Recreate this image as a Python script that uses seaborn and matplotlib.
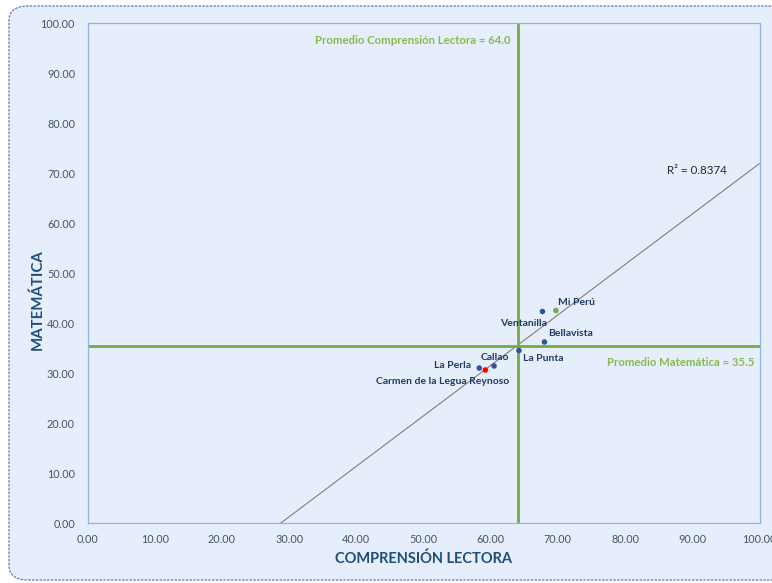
import numpy as np
import pandas as pd
import matplotlib
matplotlib.use('Agg')
from matplotlib import pyplot as plt
from matplotlib.patches import FancyBboxPatch
import seaborn as sns

# datos por distrito
distritos = ['Mi Perú', 'Ventanilla', 'Bellavista', 'La Punta', 'Callao', 'La Perla',
             'Carmen de la Legua Reynoso']
comprension = [69.7, 67.7, 68.0, 64.2, 60.5, 58.3, 59.2]
matematica = [42.5, 42.3, 36.2, 34.5, 31.4, 31.0, 30.6]
grupo = ['verde', 'azul', 'azul', 'azul', 'azul', 'azul', 'rojo']
prom_comp = 64.0
prom_mat = 35.5
r2_texto = 'R² = 0.8374'

df = pd.DataFrame({'distrito': distritos, 'comp': comprension, 'mat': matematica, 'grupo': grupo})

# desplazamiento de etiquetas (pixeles) y alineacion
offsets = [(2, 8, 'left'), (4, -12, 'right'), (4, 8, 'left'), (4, -8, 'left'),
           (1, 8, 'center'), (-8, 2, 'right'), (24, -12, 'right')]

sns.set_theme(style='white')
plt.rcParams['font.family'] = ['Lato', 'DejaVu Sans']

fondo = '#E7EEFB'
fig = plt.figure(figsize=(7.72, 5.83), dpi=100)
caja = FancyBboxPatch((9 / 772, 3 / 583), 800 / 772, 574 / 583,
                      boxstyle='round,pad=0,rounding_size=0.025', transform=fig.transFigure,
                      facecolor=fondo, edgecolor='#5B7FB5', linestyle=(0, (2, 1)), linewidth=0.9,
                      zorder=-5)
fig.patches.append(caja)

ax = fig.add_axes([87.5 / 772, 1 - 523 / 583, 672 / 772, 500 / 583])
ax.set_zorder(2)
ax.set_facecolor('none')
ax.set_xlim(0, 100)
ax.set_ylim(0, 100)

sns.regplot(data=df, x='comp', y='mat', scatter=False, ci=None, truncate=False, ax=ax,
            line_kws={'color': '#7F7F7F', 'linewidth': 0.8})
ax.axvline(prom_comp, color='#70AD47', linewidth=2, zorder=2)
ax.axhline(prom_mat, color='#70AD47', linewidth=2, zorder=2)

sns.scatterplot(data=df, x='comp', y='mat', hue='grupo', legend=False, ax=ax,
                palette={'azul': '#2F5597', 'verde': '#70AD47', 'rojo': '#FF0000'},
                s=16, edgecolor='none', zorder=4)

for d, x, y, (dx, dy, ha) in zip(distritos, comprension, matematica, offsets):
    ax.annotate(d, (x, y), xytext=(dx, dy), textcoords='offset pixels', ha=ha, va='center',
                fontsize=7.5, fontweight='bold', color='#203864', zorder=5)

verde_txt = '#86BC4F'
ax.text(prom_comp - 1.1, 96.6, f'Promedio Comprensión Lectora = {prom_comp:.1f}', ha='right',
        va='center', fontsize=8.2, fontweight='bold', color=verde_txt)
ax.text(99.3, 32.2, f'Promedio Matemática = {prom_mat:.1f}', ha='right', va='center',
        fontsize=8.2, fontweight='bold', color=verde_txt)
ax.text(90.7, 70.4, r2_texto, ha='center', va='center', fontsize=8.3, color='#262626')

ax.set_xticks(np.arange(0, 101, 10))
ax.set_yticks(np.arange(0, 101, 10))
ax.set_xticklabels([f'{v:.2f}' for v in range(0, 101, 10)])
ax.set_yticklabels([f'{v:.2f}' for v in range(0, 101, 10)])
ax.tick_params(axis='x', length=0, labelsize=7.8, labelcolor='#44546A', pad=8)
ax.tick_params(axis='y', length=0, labelsize=7.8, labelcolor='#44546A', pad=9)
ax.set_xlabel('')
ax.set_ylabel('')
ax.text(0.5, -0.072, 'COMPRENSIÓN LECTORA', transform=ax.transAxes, ha='center', va='center',
        fontsize=10.5, fontweight='bold', color='#1F4E79')
ax.text(-0.075, 0.446, 'MATEMÁTICA', transform=ax.transAxes, rotation=90, ha='center',
        va='center', fontsize=10.8, fontweight='bold', color='#1F4E79')
for s in ax.spines.values():
    s.set_color('#8EB4E3')
    s.set_linewidth(0.9)

fig.savefig('out.png', dpi=100, facecolor='white')
